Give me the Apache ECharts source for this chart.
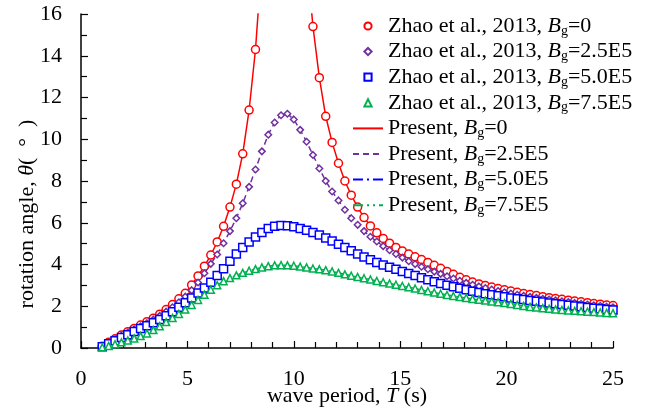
<!DOCTYPE html>
<html>
<head>
<meta charset="utf-8">
<script src="https://cdn.jsdelivr.net/npm/echarts@6/dist/echarts.min.js"></script>
<style>
  html, body { margin: 0; padding: 0; background: #fff; }
  #chart { width: 662px; height: 410px; }
</style>
</head>
<body>
<div id="chart"></div>
<script>
// Wave period T (s)
const periodT = [
  1.0, 1.3, 1.6, 1.9, 2.2, 2.5, 2.8, 3.1, 3.4, 3.7,
  4.0, 4.3, 4.6, 4.9, 5.2, 5.5, 5.8, 6.1, 6.4, 6.7,
  7.0, 7.3, 7.6, 7.9, 8.2, 8.5, 8.8, 9.1, 9.4, 9.7,
  10.0, 10.3, 10.6, 10.9, 11.2, 11.5, 11.8, 12.1, 12.4, 12.7,
  13.0, 13.3, 13.6, 13.9, 14.2, 14.5, 14.8, 15.1, 15.4, 15.7,
  16.0, 16.3, 16.6, 16.9, 17.2, 17.5, 17.8, 18.1, 18.4, 18.7,
  19.0, 19.3, 19.6, 19.9, 20.2, 20.5, 20.8, 21.1, 21.4, 21.7,
  22.0, 22.3, 22.6, 22.9, 23.2, 23.5, 23.8, 24.1, 24.4, 24.7,
  25.0
];

// Rotation angle (deg), Bg = 0
const thetaBg0 = [
  0.08, 0.27, 0.44, 0.62, 0.78, 0.94, 1.10, 1.26, 1.43, 1.62,
  1.84, 2.08, 2.36, 2.62, 3.02, 3.45, 3.92, 4.45, 5.08, 5.83,
  6.75, 7.85, 9.30, 11.4, 14.3, 18.6, 25.0, 40.0, 72.0, 68.0,
  38.0, 25.0, 18.8, 15.4, 12.95, 11.1, 9.85, 8.85, 8.00, 7.32,
  6.75, 6.25, 5.85, 5.52, 5.25, 5.02, 4.82, 4.65, 4.50, 4.37,
  4.24, 4.10, 3.96, 3.82, 3.67, 3.53, 3.39, 3.27, 3.16, 3.07,
  2.99, 2.92, 2.85, 2.79, 2.73, 2.67, 2.61, 2.56, 2.51, 2.46,
  2.41, 2.37, 2.33, 2.29, 2.25, 2.21, 2.17, 2.13, 2.10, 2.06,
  2.03
];

// Rotation angle (deg), Bg = 2.5E5
const thetaBg25 = [
  0.07, 0.25, 0.42, 0.59, 0.74, 0.89, 1.04, 1.19, 1.36, 1.54,
  1.74, 1.95, 2.19, 2.46, 2.77, 3.14, 3.58, 4.03, 4.48, 5.02,
  5.60, 6.22, 6.93, 7.72, 8.55, 9.42, 10.22, 10.80, 11.15, 11.22,
  10.95, 10.45, 9.88, 9.25, 8.60, 8.00, 7.50, 7.07, 6.62, 6.22,
  5.90, 5.60, 5.33, 5.10, 4.88, 4.68, 4.50, 4.33, 4.16, 4.02,
  3.89, 3.77, 3.66, 3.55, 3.44, 3.33, 3.22, 3.12, 3.03, 2.95,
  2.87, 2.80, 2.73, 2.67, 2.61, 2.55, 2.50, 2.45, 2.40, 2.36,
  2.32, 2.28, 2.24, 2.20, 2.16, 2.12, 2.08, 2.05, 2.02, 1.98,
  1.95
];

// Rotation angle (deg), Bg = 5.0E5
const thetaBg50 = [
  0.06, 0.20, 0.35, 0.50, 0.64, 0.79, 0.93, 1.07, 1.21, 1.37,
  1.55, 1.74, 1.95, 2.17, 2.40, 2.63, 2.88, 3.15, 3.47, 3.80,
  4.15, 4.50, 4.82, 5.08, 5.32, 5.53, 5.72, 5.83, 5.87, 5.86,
  5.81, 5.73, 5.64, 5.53, 5.41, 5.27, 5.12, 4.97, 4.82, 4.66,
  4.50, 4.36, 4.23, 4.10, 3.98, 3.87, 3.77, 3.67, 3.57, 3.47,
  3.37, 3.27, 3.17, 3.09, 3.01, 2.93, 2.86, 2.79, 2.72, 2.66,
  2.60, 2.55, 2.50, 2.45, 2.40, 2.36, 2.32, 2.28, 2.24, 2.20,
  2.16, 2.12, 2.08, 2.05, 2.01, 1.98, 1.94, 1.91, 1.88, 1.85,
  1.82
];

// Rotation angle (deg), Bg = 7.5E5
const thetaBg75 = [
  0.03, 0.10, 0.18, 0.27, 0.36, 0.46, 0.57, 0.70, 0.86, 1.04,
  1.24, 1.44, 1.63, 1.84, 2.06, 2.30, 2.55, 2.79, 3.01, 3.20,
  3.35, 3.48, 3.60, 3.70, 3.78, 3.86, 3.92, 3.96, 3.97, 3.96,
  3.94, 3.90, 3.86, 3.81, 3.77, 3.73, 3.67, 3.60, 3.53, 3.46,
  3.40, 3.34, 3.28, 3.21, 3.15, 3.09, 3.03, 2.97, 2.91, 2.85,
  2.78, 2.72, 2.66, 2.60, 2.54, 2.49, 2.44, 2.40, 2.35, 2.31,
  2.27, 2.23, 2.19, 2.15, 2.11, 2.06, 2.01, 1.97, 1.94, 1.91,
  1.88, 1.85, 1.82, 1.80, 1.78, 1.76, 1.74, 1.72, 1.70, 1.68,
  1.67
];

const bgLabels = ['0', '2.5E5', '5.0E5', '7.5E5'];
const thetaSets = [thetaBg0, thetaBg25, thetaBg50, thetaBg75];

const FONT = 'Liberation Serif';
const FS = 22;
const colors = ['#ff0000', '#7030a0', '#0000ff', '#00b050'];
const markerShapes = ['circle', 'diamond', 'rect', 'triangle'];
const markerSizes = [8, 6.5, 8, 7];
const dashPatterns = ['solid', [6, 4], [10, 4, 2, 4], [10, 4, 2, 4, 2, 4]];

const toPoints = arr => periodT.map((t, i) => [t, arr[i]]);

const presentNames = bgLabels.map(b => 'Present, B_g=' + b);
const zhaoNames = bgLabels.map(b => 'Zhao et al., 2013, B_g=' + b);

const series = [];
// model curves
thetaSets.forEach((arr, k) => {
  series.push({
    name: presentNames[k],
    type: 'line',
    data: toPoints(arr),
    symbol: 'none',
    clip: true,
    itemStyle: { color: colors[k] },
    lineStyle: { color: colors[k], width: 1.5, type: dashPatterns[k] },
    emphasis: { disabled: true }
  });
});
// published results as hollow markers (no connecting line)
thetaSets.forEach((arr, k) => {
  series.push({
    name: zhaoNames[k],
    type: 'line',
    data: toPoints(arr),
    symbol: markerShapes[k],
    symbolSize: markerSizes[k],
    showSymbol: true,
    showAllSymbol: true,
    clip: true,
    lineStyle: { opacity: 0, width: 0 },
    itemStyle: { color: '#ffffff', borderColor: colors[k], borderWidth: 1.5, opacity: 1 },
    emphasis: { disabled: true }
  });
});

const richText = {
  t: { fontFamily: FONT, fontSize: FS, lineHeight: 24, color: '#000' },
  b: { fontFamily: FONT, fontSize: FS, lineHeight: 24, fontStyle: 'italic', color: '#000' },
  s: { fontFamily: FONT, fontSize: 14, lineHeight: 4, verticalAlign: 'bottom', color: '#000' }
};

const legendData = zhaoNames.map(n => ({
  name: n,
  lineStyle: { opacity: 0 }
})).concat(presentNames.map(n => ({
  name: n,
  itemStyle: { opacity: 0 }
})));

const chart = echarts.init(document.getElementById('chart'), null, { renderer: 'canvas' });
chart.setOption({
  backgroundColor: '#ffffff',
  animation: false,
  grid: { left: 81, right: 49, top: 14, bottom: 62, containLabel: false, outerBoundsMode: 'none' },
  xAxis: {
    type: 'value',
    min: 0, max: 25, interval: 5,
    name: '{t|wave period, }{b|T}{t| (s)}',
    nameLocation: 'middle',
    nameGap: 36,
    nameMoveOverlap: false,
    nameTextStyle: { rich: richText },
    axisLine: { show: true, onZero: false, lineStyle: { color: '#000', width: 1.5 } },
    axisTick: { show: true, inside: true, length: 7, lineStyle: { color: '#000', width: 1.2 } },
    minorTick: { show: true, splitNumber: 5, length: 6, lineStyle: { color: '#000', width: 1.2 } },
    splitLine: { show: false },
    axisLabel: { fontFamily: FONT, fontSize: FS, color: '#000', margin: 20 }
  },
  yAxis: {
    type: 'value',
    min: 0, max: 16, interval: 2,
    axisLine: { show: true, onZero: false, lineStyle: { color: '#000', width: 1.5 } },
    axisTick: { show: true, inside: true, length: 7, lineStyle: { color: '#000', width: 1.2 } },
    minorTick: { show: true, splitNumber: 2, length: 6, lineStyle: { color: '#000', width: 1.2 } },
    splitLine: { show: false },
    axisLabel: { fontFamily: FONT, fontSize: FS, color: '#000', margin: 19 }
  },
  legend: {
    orient: 'vertical',
    left: 347,
    top: 10,
    itemWidth: 30,
    itemHeight: 9,
    itemGap: 2.6,
    selectedMode: false,
    data: legendData,
    formatter: name => {
      const parts = name.split('B_g');
      return '{t|' + parts[0] + '}{b|B}{s|g}{t|' + parts[1] + '}';
    },
    textStyle: { rich: richText }
  },
  graphic: [{
    type: 'text',
    x: 27,
    y: 214,
    rotation: Math.PI / 2,
    style: {
      text: '{t|rotation angle, }{b|θ}{t|(\u2002°\u2002)}',
      rich: richText,
      align: 'center',
      verticalAlign: 'middle'
    }
  }],
  series: series
});
</script>
</body>
</html>
